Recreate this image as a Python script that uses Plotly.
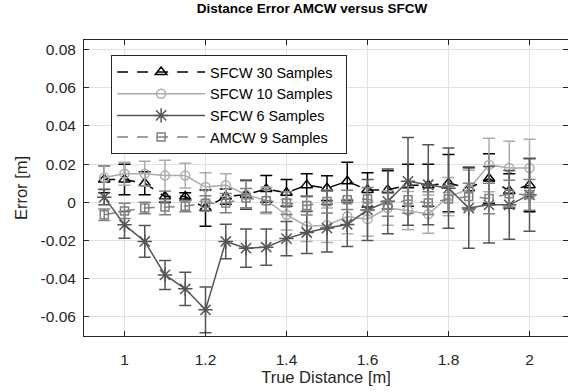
import plotly.graph_objects as go

distance = [0.95, 1.00, 1.05, 1.10, 1.15, 1.20, 1.25, 1.30, 1.35, 1.40, 1.45,
            1.50, 1.55, 1.60, 1.65, 1.70, 1.75, 1.80, 1.85, 1.90, 1.95, 2.00]

sfcw30 = [0.012, 0.012, 0.010, 0.003, 0.003, -0.003, 0.003, 0.004, 0.007, 0.005, 0.009,
          0.0074, 0.011, 0.0065, 0.0065, 0.009, 0.009, 0.010, 0.0074, 0.0125, 0.006, 0.009]
sfcw30_err = [0.007, 0.008, 0.006, 0.003, 0.002, 0.0095, 0.004, 0.0075, 0.007, 0.007, 0.006,
              0.0065, 0.010, 0.009, 0.010, 0.011, 0.011, 0.015, 0.011, 0.013, 0.009, 0.014]

sfcw10 = [0.013, 0.015, 0.015, 0.014, 0.014, 0.008, 0.009, 0.004, 0.001, -0.0065, -0.0125,
          -0.012, -0.0074, -0.0088, -0.003, -0.0043, -0.0062, 0.003, 0.0068, 0.0196, 0.018, 0.018]
sfcw10_err = [0.006, 0.006, 0.0065, 0.008, 0.0065, 0.0075, 0.006, 0.007, 0.007, 0.008, 0.008,
              0.009, 0.009, 0.009, 0.009, 0.010, 0.010, 0.010, 0.010, 0.014, 0.014, 0.015]

sfcw6 = [0.0027, -0.0118, -0.0205, -0.038, -0.0453, -0.0563, -0.0205, -0.024, -0.0235, -0.019, -0.0158,
         -0.0135, -0.0116, -0.004, 0.0005, 0.011, 0.0092, 0.0074, -0.003, -0.0013, -0.0013, 0.0039]
sfcw6_err = [0.004, 0.007, 0.0083, 0.0076, 0.0087, 0.012, 0.009, 0.010, 0.0095, 0.009, 0.011,
             0.0125, 0.0115, 0.016, 0.017, 0.023, 0.021, 0.021, 0.021, 0.020, 0.018, 0.019]

amcw9 = [-0.0065, -0.0045, -0.003, -0.0025, -0.002, -0.0005, -0.0004, 0.0022, 0.0008, -0.0004, -0.0017,
         0.0004, 0.0013, 0.0017, -0.0013, 0.0013, -0.0004, 0.0017, 0.003, 0.002, 0.0045, 0.0039]
amcw9_err = [0.003, 0.004, 0.003, 0.004, 0.003, 0.004, 0.005, 0.005, 0.006, 0.006, 0.005,
             0.006, 0.005, 0.006, 0.006, 0.007, 0.006, 0.007, 0.007, 0.008, 0.007, 0.008]

y_ticks = [-0.06, -0.04, -0.02, 0, 0.02, 0.04, 0.06, 0.08]
y_ticktext = ["-0.06", "-0.04", "-0.02", "0", "0.02", "0.04", "0.06", "0.08"]
x_ticks = [1, 1.2, 1.4, 1.6, 1.8, 2]
x_ticktext = ["1", "1.2", "1.4", "1.6", "1.8", "2"]

series = [
    ("SFCW 30 Samples", sfcw30, sfcw30_err, "#000000", "triangle-up-open", 10, "11px,9px"),
    ("SFCW 10 Samples", sfcw10, sfcw10_err, "#acacac", "circle-open", 9, "solid"),
    ("SFCW 6 Samples", sfcw6, sfcw6_err, "#555555", "asterisk-open", 12, "solid"),
    ("AMCW 9 Samples", amcw9, amcw9_err, "#808080", "square-open", 8, "11px,9px"),
]

FONT = "Liberation Sans, Arial, sans-serif"

fig = go.Figure()
for name, vals, errs, color, sym, size, dash in series:
    fig.add_trace(go.Scatter(
        x=distance, y=vals, name=name + "&nbsp;&nbsp;", mode="lines+markers",
        line=dict(color=color, width=1.5, dash=dash),
        marker=dict(symbol=sym, size=size, color=color, line=dict(color=color, width=1.5)),
        error_y=dict(type="data", array=errs, visible=True, color=color, thickness=1.5, width=6),
    ))

axis_common = dict(
    showgrid=True, gridcolor="#e1e1e1", gridwidth=1,
    showline=True, linecolor="#262626", linewidth=1, mirror="ticks",
    ticks="inside", ticklen=5, tickcolor="#262626",
    tickfont=dict(family=FONT, size=15.5, color="#262626"),
    zeroline=False,
)

fig.update_layout(
    width=568, height=392,
    margin=dict(l=84, r=0, t=40, b=56),
    paper_bgcolor="white", plot_bgcolor="white",
    font=dict(family=FONT, size=14, color="#262626"),
    title=dict(text="<b>Distance Error AMCW versus SFCW</b>", x=0.471, xref="paper",
               xanchor="center", y=0.978, yanchor="middle",
               font=dict(family=FONT, size=13.5, color="#000000")),
    xaxis=dict(range=[0.9, 2.095], tickvals=x_ticks, ticktext=x_ticktext,
               ticklabelstandoff=9,
               title=dict(text="True Distance [m]", standoff=3,
                          font=dict(family=FONT, size=16.5, color="#262626")),
               **axis_common),
    yaxis=dict(range=[-0.07, 0.085], tickvals=y_ticks, ticktext=y_ticktext,
               ticklabelstandoff=4,
               title=dict(text="Error [m]", standoff=8,
                          font=dict(family=FONT, size=16.5, color="#262626")),
               **axis_common),
    legend=dict(x=0.056, y=0.949, xanchor="left", yanchor="top",
                bordercolor="#262626", borderwidth=1, bgcolor="white",
                font=dict(family=FONT, size=14.4, color="#000000"), itemwidth=88,
                tracegroupgap=0),
    showlegend=True,
)

fig.write_html("out.html")
